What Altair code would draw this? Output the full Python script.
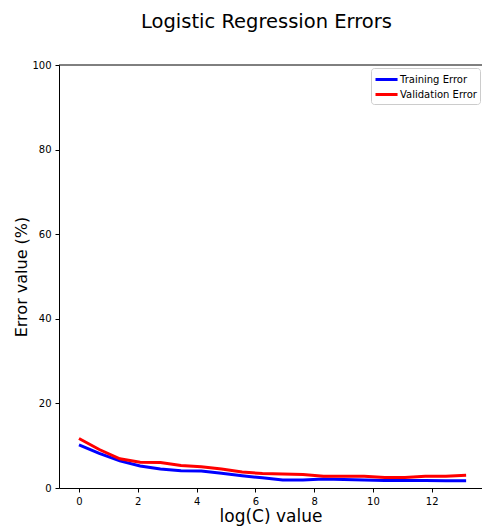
import altair as alt
import pandas as pd

log_c = [0.0, 0.69, 1.39, 2.08, 2.77, 3.47, 4.16, 4.85, 5.55, 6.24,
         6.93, 7.62, 8.32, 9.01, 9.70, 10.40, 11.09, 11.78, 12.48, 13.17]
training_error = [10.2, 8.2, 6.4, 5.2, 4.5, 4.1, 4.0, 3.5, 2.9, 2.4,
                  1.9, 1.9, 2.1, 2.0, 1.9, 1.8, 1.8, 1.8, 1.7, 1.7]
validation_error = [11.7, 9.1, 6.9, 6.1, 6.0, 5.3, 5.0, 4.5, 3.8, 3.4,
                    3.3, 3.2, 2.8, 2.8, 2.8, 2.5, 2.5, 2.8, 2.8, 3.0]
series_names = ["Training Error", "Validation Error"]
series_colors = ["blue", "red"]

rows = []
for i, x in enumerate(log_c):
    rows.append({"x": x, "y": training_error[i], "series": series_names[0]})
    rows.append({"x": x, "y": validation_error[i], "series": series_names[1]})
df = pd.DataFrame(rows)

FONT = "DejaVu Sans"

lines = alt.Chart(df).mark_line(strokeWidth=3, clip=True).encode(
    x=alt.X("x:Q", title="log(C) value",
            scale=alt.Scale(domain=[-0.68, 13.71], nice=False, zero=False),
            axis=alt.Axis(values=[0, 2, 4, 6, 8, 10, 12], grid=False,
                          tickSize=4, labelFontSize=10, titleFontSize=17,
                          titleFontWeight="normal", labelColor="black",
                          titleColor="black", domainColor="black",
                          tickColor="black", labelPadding=4, titlePadding=2)),
    y=alt.Y("y:Q", title="Error value (%)",
            scale=alt.Scale(domain=[0, 100], nice=False),
            axis=alt.Axis(values=[0, 20, 40, 60, 80, 100], grid=False,
                          tickSize=4, labelFontSize=10, titleFontSize=16,
                          titleFontWeight="normal", labelColor="black",
                          titleColor="black", domainColor="black",
                          tickColor="black", labelPadding=4, titlePadding=2)),
    color=alt.Color("series:N",
                    scale=alt.Scale(domain=series_names, range=series_colors),
                    legend=alt.Legend(title=None, orient="none",
                                      legendX=312, legendY=3,
                                      symbolType="M-1,0H2.15",
                                      symbolStrokeWidth=3,
                                      symbolSize=196, labelFontSize=10,
                                      labelColor="black", labelOffset=9,
                                      strokeColor="#cccccc", fillColor="white",
                                      padding=3, cornerRadius=3,
                                      rowPadding=-4)),
)

top_rule = alt.Chart(pd.DataFrame({"v": [100]})).mark_rule(color="black", strokeWidth=1).encode(
    y=alt.Y("v:Q", scale=alt.Scale(domain=[0, 100], nice=False)),
)

chart = alt.layer(lines, top_rule).properties(
    width=423, height=423,
    title=alt.TitleParams("Logistic Regression Errors", fontSize=19.5,
                          fontWeight="normal", color="black", offset=28,
                          dx=-4),
    autosize=alt.AutoSizeParams(type="none"),
    padding={"left": 59, "top": 65, "right": 0, "bottom": 41},
).configure(font=FONT).configure_view(stroke=None)

chart.save("out.html", embed_options={"renderer": "svg", "actions": False})
